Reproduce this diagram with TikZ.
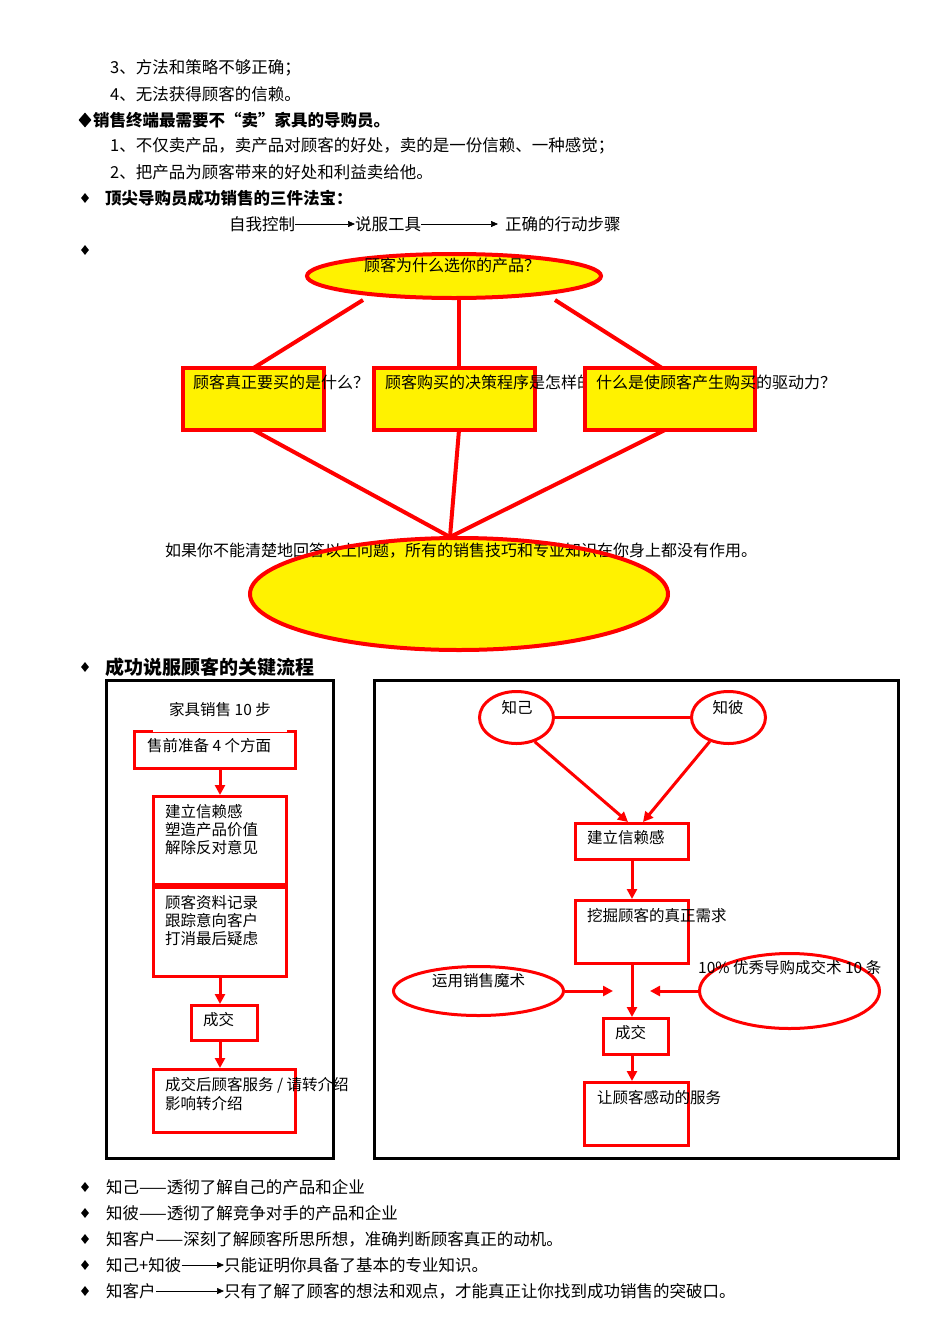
\documentclass[tikz,border=0pt]{standalone}
\usepackage{fontspec}
\setmainfont{Noto Sans CJK SC}
\usetikzlibrary{arrows.meta,shapes.geometric}

\begin{document}
\begin{tikzpicture}[x=1pt,y=-1pt,
  txt/.style={anchor=west, inner sep=0pt, font=\fontsize{16.5}{19}\selectfont},
  hd/.style={anchor=west, inner sep=0pt, font=\fontsize{16.5}{19}\selectfont\bfseries},
  sm/.style={anchor=west, inner sep=0pt, font=\fontsize{15.5}{18}\selectfont},
  qs/.style={anchor=west, inner sep=0pt, font=\fontsize{16}{18}\selectfont},
  bul/.style={diamond, fill=black, inner sep=0pt, minimum width=8pt, minimum height=10pt},
  ybox/.style={rectangle, draw=red, fill=yellow, line width=4pt, inner sep=0pt},
  yfill/.style={ellipse, fill=yellow, inner sep=0pt},
  yring/.style={ellipse, draw=red, line width=4pt, inner sep=0pt},
  rbox/.style={rectangle, draw=red, line width=3pt, inner sep=0pt},
  rell/.style={ellipse, draw=red, line width=3pt, inner sep=0pt},
  blackframe/.style={rectangle, draw=black, line width=3pt, inner sep=0pt},
  redlink/.style={draw=red, line width=4pt},
  flowarrow/.style={draw=red, line width=3pt, -{Triangle[length=10pt,width=10pt]}},
  textarrow/.style={draw=black, line width=0.7pt, -{Triangle[length=7pt,width=6pt]}}]

\useasboundingbox (0,0) rectangle (950,1344);
\fill[white] (0,0) rectangle (950,1344);

% ---------- opening text ----------
\node[txt] (la) at (110,68) {3、方法和策略不够正确；};
\node[txt] (lb) at (110,94) {4、无法获得顾客的信赖。};
\node[bul, minimum width=13pt, minimum height=15pt] (d0) at (85,120) {};
\node[hd] (h1) at (93,120) {销售终端最需要不“卖”家具的导购员。};
\node[txt] (lc) at (110,146) {1、不仅卖产品，卖产品对顾客的好处，卖的是一份信赖、一种感觉；};
\node[txt] (ld) at (110,172) {2、把产品为顾客带来的好处和利益卖给他。};
\node[bul] (d1) at (85,198) {};
\node[hd] (h2) at (105,198) {顶尖导购员成功销售的三件法宝：};
\node[txt] (z1) at (229,224) {自我控制};
\node[txt] (z2) at (355,224) {说服工具};
\node[txt] (z3) at (505,224) {正确的行动步骤};
\draw[textarrow] (z1.east) -- (z2.west);
\draw[textarrow] (z2.east) -- ([xshift=-7pt]z3.west);
\node[bul] (d2) at (85,250) {};

% ---------- why customers choose the product ----------
\coordinate (ql) at (363,300);
\coordinate (qm) at (459,300);
\coordinate (qr) at (555,300);
\coordinate (apex) at (450,537);
\draw[redlink] (ql) -- (253.5,368);
\draw[redlink] (qm) -- (459,368);
\draw[redlink] (qr) -- (662,368);
\draw[redlink] (253.5,430) -- (apex);
\draw[redlink] (459,430) -- (apex);
\draw[redlink] (665,430) -- (apex);

\node[yfill, minimum width=294pt, minimum height=44pt] (qf) at (454,276) {};
\node[yring, minimum width=294pt, minimum height=44pt] (q) at (454,276) {};
\node[qs, anchor=center] (qt) at (452,265) {顾客为什么选你的产品？};

\node[yfill, minimum width=418pt, minimum height=112pt] (be) at (459,594) {};
\node[qs] (bt) at (165,551) {如果你不能清楚地回答以上问题，所有的销售技巧和专业知识在你身上都没有作用。};
\node[yring, minimum width=418pt, minimum height=112pt] (bring) at (459,594) {};

\node[ybox, minimum width=141pt, minimum height=62pt] (b1) at (253.5,399) {};
\node[qs] (t1) at (193,382) {顾客真正要买的是什么？};
\node[ybox, minimum width=161pt, minimum height=62pt] (b2) at (454.5,399) {};
\node[qs] (t2) at (385,382) {顾客购买的决策程序是怎样的};
\node[ybox, minimum width=170pt, minimum height=62pt] (b3) at (670,399) {};
\node[qs] (t3) at (596,382) {什么是使顾客产生购买的驱动力？};

% ---------- key persuasion process ----------
\node[bul] (d3) at (85,667) {};
\node[hd, font=\fontsize{19}{22}\selectfont\bfseries] (h3) at (105,667) {成功说服顾客的关键流程};

% left panel: ten steps of furniture sales
\node[blackframe, minimum width=227pt, minimum height=478pt] (lp) at (220,919.5) {};
\node[rbox, minimum width=161pt, minimum height=37pt] (f1) at (215,750) {};
\node[fill=white, inner sep=0pt, minimum width=134pt, minimum height=44pt,
      font=\fontsize{15.5}{18}\selectfont] (ft) at (220,710) {家具销售 10 步};
\node[sm] (f1t) at (147,746) {售前准备 4 个方面};
\node[rbox, minimum width=133pt, minimum height=88pt] (f2) at (220,840.5) {};
\node[sm] (f2a) at (165,812) {建立信赖感};
\node[sm] (f2b) at (165,830) {塑造产品价值};
\node[sm] (f2c) at (165,848) {解除反对意见};
\node[rbox, minimum width=133pt, minimum height=89pt] (f3) at (220,932) {};
\node[sm] (f3a) at (165,903) {顾客资料记录};
\node[sm] (f3b) at (165,921) {跟踪意向客户};
\node[sm] (f3c) at (165,939) {打消最后疑虑};
\node[rbox, minimum width=66pt, minimum height=35pt] (f4) at (224.5,1023) {};
\node[sm] (f4t) at (203,1020) {成交};
\node[rbox, minimum width=142pt, minimum height=63pt] (f5) at (224.5,1101) {};
\node[sm] (f5a) at (165,1085) {成交后顾客服务 / 请转介绍};
\node[sm] (f5b) at (165,1104) {影响转介绍};
\draw[flowarrow] (f2.north |- f1.south) -- (f2.north);
\draw[flowarrow] (f3.south) -- (f3.south |- f4.north);
\draw[flowarrow] (f3.south |- f4.south) -- (f3.south |- f5.north);

% right panel: know yourself, know the rival
\node[blackframe, minimum width=524pt, minimum height=478pt] (rp) at (636.5,919.5) {};
\node[rell, minimum width=74pt, minimum height=52pt] (ej) at (516.5,717.5) {};
\node[rell, minimum width=74pt, minimum height=52pt] (eb) at (728.5,717.5) {};
\node[sm, anchor=center] (ejt) at (517,708) {知己};
\node[sm, anchor=center] (ebt) at (728,708) {知彼};
\draw[red, line width=3pt] (ej.east) -- (eb.west);
\node[rbox, minimum width=113pt, minimum height=36pt] (g1) at (632,841.5) {};
\node[sm] (g1t) at (587,838) {建立信赖感};
\draw[flowarrow] (ej.-53) -- ([xshift=-4pt]g1.north);
\draw[flowarrow] (eb.-128) -- ([xshift=11pt]g1.north);
\node[rbox, minimum width=113pt, minimum height=63pt] (g2) at (632,932) {};
\node[sm] (g2t) at (587,916) {挖掘顾客的真正需求};
\draw[flowarrow] (g1.south) -- (g2.north);
\node[rell, minimum width=170pt, minimum height=49pt] (em) at (478.5,991) {};
\node[sm] (emt) at (432,981) {运用销售魔术};
\node[rell, minimum width=180pt, minimum height=75pt] (er) at (789.5,991) {};
\node[sm] (ert) at (698,968) {10\% 优秀导购成交术 10 条};
\coordinate (ml) at (613,991);
\coordinate (mr) at (650,991);
\draw[flowarrow] (em.east) -- (ml);
\draw[flowarrow] (er.west) -- (mr);
\node[rbox, minimum width=65pt, minimum height=36pt] (g3) at (636,1036.5) {};
\node[sm] (g3t) at (615,1033) {成交};
\node[rbox, minimum width=104pt, minimum height=63pt] (g4) at (636.5,1114) {};
\node[sm] (g4t) at (597,1098) {让顾客感动的服务};
\draw[flowarrow] (g2.south) -- (g2.south |- g3.north);
\draw[flowarrow] (g2.south |- g3.south) -- (g2.south |- g4.north);

% ---------- closing notes ----------
\node[bul] (e1) at (85,1187) {};
\node[txt] (k1) at (106,1187) {知己——透彻了解自己的产品和企业};
\node[bul] (e2) at (85,1213) {};
\node[txt] (k2) at (106,1213) {知彼——透彻了解竞争对手的产品和企业};
\node[bul] (e3) at (85,1239) {};
\node[txt] (k3) at (106,1239) {知客户——深刻了解顾客所思所想，准确判断顾客真正的动机。};
\node[bul] (e4) at (85,1265) {};
\node[txt] (k4a) at (106,1265) {知己+知彼};
\node[txt] (k4b) at (224,1265) {只能证明你具备了基本的专业知识。};
\draw[textarrow] (k4a.east) -- (k4b.west);
\node[bul] (e5) at (85,1291) {};
\node[txt] (k5a) at (106,1291) {知客户};
\node[txt] (k5b) at (224,1291) {只有了解了顾客的想法和观点，才能真正让你找到成功销售的突破口。};
\draw[textarrow] (k5a.east) -- (k5b.west);
\end{tikzpicture}
\end{document}
